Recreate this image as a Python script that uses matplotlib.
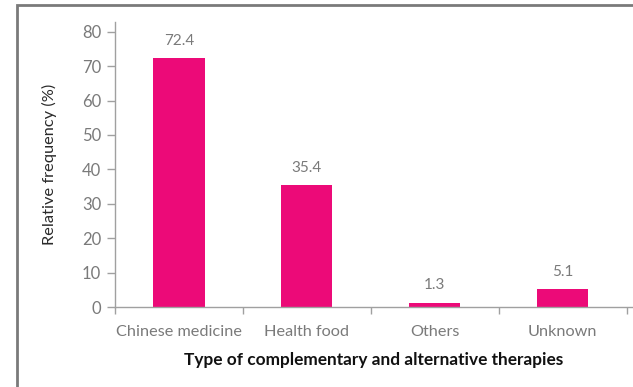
import matplotlib.pyplot as plt
from matplotlib.patches import Rectangle
from matplotlib.ticker import FixedLocator

categories = ['Chinese medicine', 'Health food', 'Others', 'Unknown']
values = [72.4, 35.4, 1.3, 5.1]

bar_color = '#EC0A78'
grey = '#a0a0a0'
text_grey = '#7a7a7a'

plt.rcParams['font.family'] = ['Lato', 'DejaVu Sans']

fig = plt.figure(figsize=(6.33, 3.87), dpi=100)
ax = fig.add_axes([0.1817, 0.2067, 0.8163, 0.7363])

x = range(len(categories))
bars = ax.bar(x, values, width=0.4, color=bar_color)
for b, v in zip(bars, values):
    ax.text(b.get_x() + b.get_width() / 2, v + 3.0, f'{v}',
            ha='center', va='bottom', fontsize=11, color=text_grey)

ax.set_xlim(-0.5, 3.54)
ax.set_ylim(0, 82.8)
ax.set_yticks(range(0, 81, 10))
ax.set_xticks(list(x))
ax.set_xticklabels(categories)
ax.xaxis.set_minor_locator(FixedLocator([-0.5, 0.5, 1.5, 2.5, 3.5]))
ax.tick_params(axis='x', which='major', length=0, pad=13, labelsize=11.7, labelcolor=text_grey)
ax.tick_params(axis='x', which='minor', length=5, color=grey, width=1)
ax.tick_params(axis='y', length=6, color=grey, width=1, labelsize=12, labelcolor=text_grey, pad=4)

for side in ['top', 'right']:
    ax.spines[side].set_visible(False)
for side in ['left', 'bottom']:
    ax.spines[side].set_color(grey)
    ax.spines[side].set_linewidth(1)

ax.set_ylabel('Relative frequency (%)', fontsize=11.8, color='#2a2a2a', labelpad=18)
ax.set_xlabel('Type of complementary and alternative therapies', fontsize=12.4,
              fontweight='bold', color='#111111', labelpad=9)

# outer frame, cut off at right and bottom
fig.patches.append(Rectangle((17 / 633, -0.1), 1.2, 1 - 5 / 387 + 0.1,
                             transform=fig.transFigure, fill=False,
                             edgecolor='#7a7a7a', linewidth=2, zorder=0))

fig.savefig('out.png', dpi=100)
